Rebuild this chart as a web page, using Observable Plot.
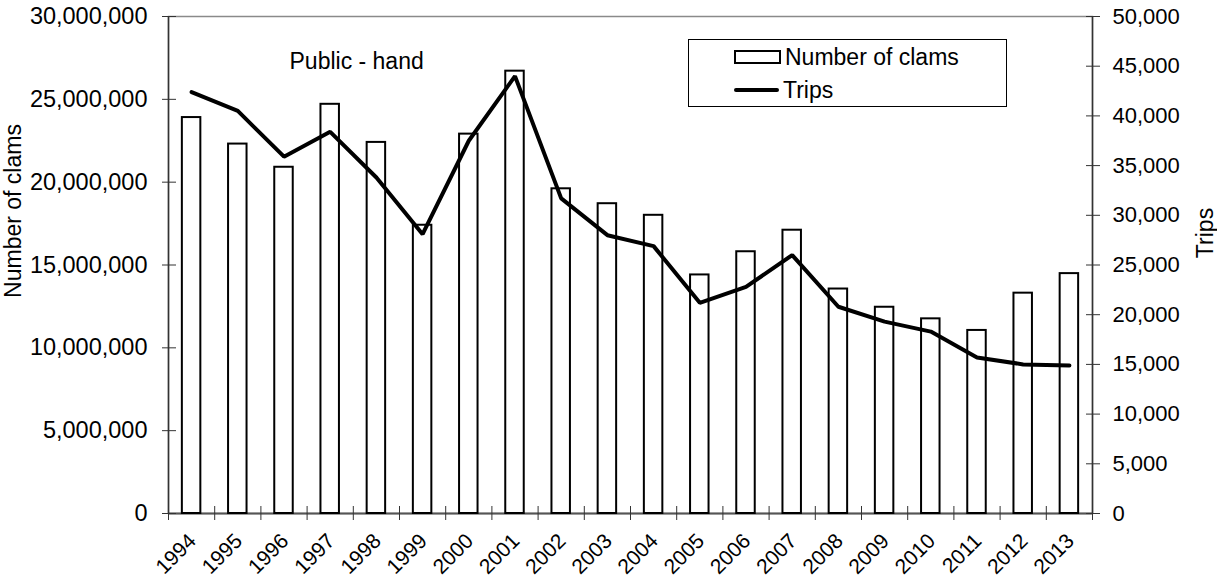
<!DOCTYPE html>
<html>
<head>
<meta charset="utf-8">
<script src="https://cdn.jsdelivr.net/npm/d3@7"></script>
<script src="https://cdn.jsdelivr.net/npm/@observablehq/plot@0.6"></script>
<style>
  html, body { margin: 0; padding: 0; background: white; }
  #wrap { position: relative; width: 1217px; height: 580px; font-family: "Liberation Sans", Arial, sans-serif; }
  #legend { position: absolute; left: 688px; top: 39px; width: 317px; height: 66px; border: 1px solid #000; background: white; font-size: 23px; color: #000; }
  .row { position: absolute; left: 45px; display: flex; align-items: center; height: 30px; }
  .sw-rect { width: 43px; height: 10px; border: 2px solid #000; margin-right: 4px; box-sizing: content-box; }
  .sw-line { width: 45px; height: 4px; background: #000; border-radius: 2px; margin-right: 4px; }
</style>
</head>
<body>
<div id="wrap"></div>
<script>
const years = [1994,1995,1996,1997,1998,1999,2000,2001,2002,2003,2004,2005,2006,2007,2008,2009,2010,2011,2012,2013];
const clams = [23900000,22300000,20900000,24700000,22400000,17400000,22900000,26700000,19600000,18700000,18000000,14400000,15800000,17100000,13550000,12450000,11750000,11050000,13300000,14480000];
const trips = [42400,40500,35900,38400,33800,28100,37500,44000,31700,28000,26900,21200,22800,26000,20800,19300,18300,15700,15000,14900];
const leftTicks = [0,5000000,10000000,15000000,20000000,25000000,30000000];
const rightTicks = [0,5000,10000,15000,20000,25000,30000,35000,40000,45000,50000];
const seriesNames = ["Number of clams", "Trips"];
const panelLabel = "Public - hand";

const ratio = 30000000 / 50000;
const data = years.map((y, i) => ({year: y, clams: clams[i], trips: trips[i]}));
const boundaries = years.map(y => y - 0.5).concat([years[years.length - 1] + 0.5]);
const fmt = d3.format(",");

const chart = Plot.plot({
  width: 1217,
  height: 580,
  marginLeft: 168,
  marginRight: 125,
  marginTop: 16,
  marginBottom: 67,
  style: {fontFamily: "'Liberation Sans', Arial, sans-serif", fontSize: "22px", color: "#000", background: "white"},
  x: {domain: [boundaries[0], boundaries[boundaries.length - 1]], axis: null},
  y: {domain: [0, 30000000], axis: null},
  marks: [
    Plot.frame({stroke: "#8a8a8a", strokeWidth: 1.5}),
    Plot.ruleY([0], {stroke: "#555", strokeWidth: 2}),
    Plot.rectY(data, {x1: d => d.year - 0.2, x2: d => d.year + 0.2, y1: 0, y2: "clams", fill: "white", stroke: "#000", strokeWidth: 2}),
    Plot.line(data, {x: "year", y: d => d.trips * ratio, stroke: "#000", strokeWidth: 4, strokeLinejoin: "miter"}),
    Plot.ruleX([boundaries[0]], {stroke: "#333", strokeWidth: 1.5}),
    Plot.ruleX([boundaries[boundaries.length - 1]], {stroke: "#333", strokeWidth: 1.5}),
    // left axis
    Plot.axisY(leftTicks, {anchor: "left", tickSize: 14, dx: 8, tickFormat: () => "", label: null, stroke: "#333"}),
    Plot.axisY(leftTicks, {anchor: "left", tickSize: 0, tickPadding: 21, tickFormat: fmt, fontSize: 23.5, label: null}),
    // right axis
    Plot.axisY(rightTicks.map(t => t * ratio), {anchor: "right", tickSize: 14, dx: -7, tickFormat: () => "", label: null, stroke: "#333"}),
    Plot.axisY(rightTicks.map(t => t * ratio), {anchor: "right", tickSize: 0, tickPadding: 20, tickFormat: d => fmt(Math.round(d / ratio)), fontSize: 22, label: null}),
    // x axis
    Plot.axisX(boundaries, {anchor: "bottom", tickSize: 14, dy: -7, tickFormat: () => "", label: null, stroke: "#333"}),
    Plot.axisX(years, {anchor: "bottom", tickSize: 0, tickPadding: 24, dy: 0, dx: 1, tickRotate: -45, tickFormat: d => String(d), fontSize: 21, label: null}),
    // texts
    Plot.text([panelLabel], {text: d => d, frameAnchor: "top-left", dx: 121, dy: 36, textAnchor: "start", fontSize: 23, fill: "#000"}),
    Plot.text([seriesNames[0]], {text: d => d, frameAnchor: "left", dx: -155, dy: -54, rotate: -90, textAnchor: "middle", lineAnchor: "middle", fontSize: 23, fill: "#000"}),
    Plot.text([seriesNames[1]], {text: d => d, frameAnchor: "right", dx: 113, dy: -32, rotate: -90, textAnchor: "middle", lineAnchor: "middle", fontSize: 23, fill: "#000"})
  ]
});

const wrap = document.getElementById("wrap");
wrap.appendChild(chart);
const legend = document.createElement("div");
legend.id = "legend";
legend.innerHTML =
  `<div class="row" style="top:2px"><div class="sw-rect"></div><span>${seriesNames[0]}</span></div>` +
  `<div class="row" style="top:35px"><div class="sw-line"></div><span>${seriesNames[1]}</span></div>`;
wrap.appendChild(legend);
</script>
</body>
</html>
